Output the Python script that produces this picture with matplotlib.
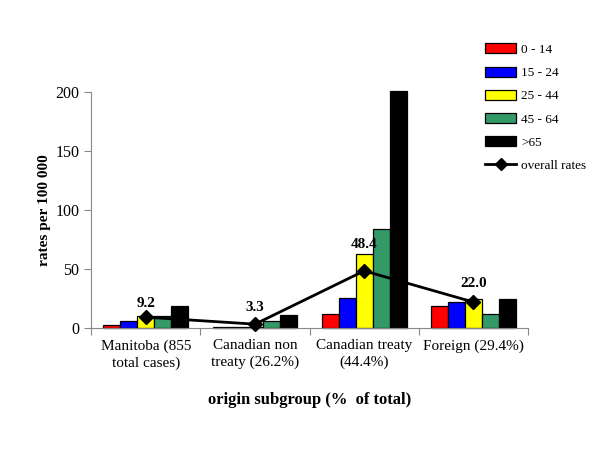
import matplotlib.pyplot as plt
import matplotlib.lines as mlines
import matplotlib.patches as mpatches
import numpy as np

# categories (x axis)
categories = ["Manitoba (855\ntotal cases)", "Canadian non\ntreaty (26.2%)",
              "Canadian treaty\n(44.4%)", "Foreign (29.4%)"]

# age group rates per 100 000
age_groups = ["0 - 14", "15 - 24", "25 - 44", "45 - 64", ">65"]
rate_0_14 = [2.8, 0.5, 11.7, 18.4]
rate_15_24 = [6.2, 0.8, 25.3, 22.4]
rate_25_44 = [10.5, 1.0, 62.7, 24.4]
rate_45_64 = [10.0, 6.0, 84.0, 11.7]
rate_65 = [18.5, 11.0, 201.0, 24.4]
overall = [9.2, 3.3, 48.4, 22.0]

colors = ['#ff0000', '#0000ff', '#ffff00', '#339966', '#000000']
# vertical offset of each value label (points)
label_offsets = [5, 7, 14, 9]

plt.rcParams['font.family'] = ['Liberation Serif', 'DejaVu Serif']

fig = plt.figure(figsize=(6, 4.5), dpi=100)
ax = fig.add_axes([0.152, 0.271, 0.728, 0.525])

x = np.arange(len(categories))
w = 0.155
series = [rate_0_14, rate_15_24, rate_25_44, rate_45_64, rate_65]
for i, (vals, col) in enumerate(zip(series, colors)):
    ax.bar(x + (i - 2) * w, vals, width=w, color=col, edgecolor='black',
           linewidth=0.9, clip_on=False, zorder=2)

ax.plot(x, overall, color='black', linewidth=2, marker='D', markersize=7,
        zorder=3, clip_on=False)
for xi, v, off in zip(x, overall, label_offsets):
    ax.annotate(f"{v:.1f}", xy=(xi, v), xytext=(0, off), textcoords='offset points',
                ha='center', va='bottom', fontsize=11, fontweight='bold')

ax.set_xlim(-0.5, 3.5)
ax.set_ylim(0, 200)
ax.set_yticks([0, 50, 100, 150, 200])
ax.set_xticks(np.arange(-0.5, 4.0, 1.0))
ax.set_xticklabels([])
ax.set_xticks(x, minor=True)
ax.set_xticklabels(categories, minor=True, fontsize=11, linespacing=1.35)
ax.tick_params(axis='x', which='minor', length=0, pad=8)
ax.tick_params(axis='x', which='major', length=5, color='#888888', direction='out')
ax.tick_params(axis='y', length=5, color='#888888', direction='out', labelsize=11.5)

for s in ['top', 'right']:
    ax.spines[s].set_visible(False)
for s in ['left', 'bottom']:
    ax.spines[s].set_color('#888888')
    ax.spines[s].set_linewidth(0.8)

ax.set_ylabel("rates per 100 000", fontsize=11, fontweight='bold', labelpad=3)
ax.set_xlabel("origin subgroup (%  of total)", fontsize=12, fontweight='bold', labelpad=16)

handles = [mpatches.Patch(facecolor=c, edgecolor='black', linewidth=0.9) for c in colors]
handles.append(mlines.Line2D([], [], color='black', linewidth=2, marker='D', markersize=6))
labels = age_groups + ["overall rates"]
fig.legend(handles, labels, loc='upper left', bbox_to_anchor=(0.788, 0.93),
           frameon=False, fontsize=9.5, handlelength=2.4, handleheight=0.8,
           labelspacing=0.8, handletextpad=0.35)

fig.savefig('out.png', dpi=100)
